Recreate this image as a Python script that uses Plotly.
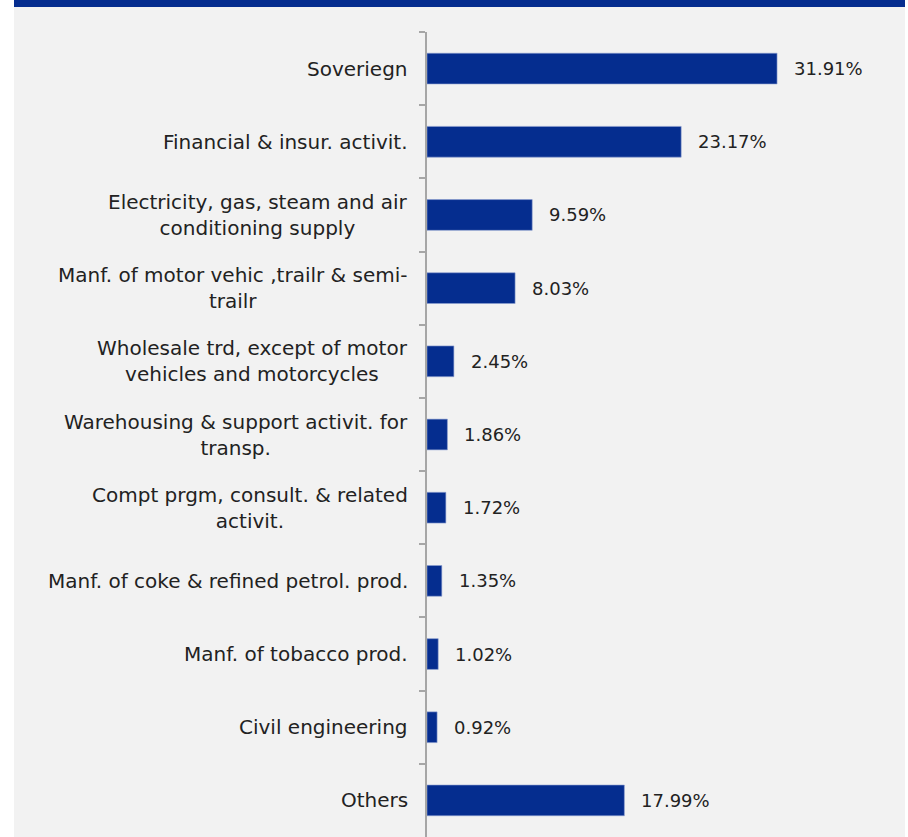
import plotly.graph_objects as go

# Sector breakdown (share of portfolio, %)
sectors = [
    "Soveriegn",
    "Financial & insur. activit.",
    "Electricity, gas, steam and air<br>conditioning supply",
    "Manf. of motor vehic ,trailr & semi-<br>trailr",
    "Wholesale trd, except of motor<br>vehicles and motorcycles",
    "Warehousing & support activit. for<br>transp.",
    "Compt prgm, consult. & related<br>activit.",
    "Manf. of coke & refined petrol. prod.",
    "Manf. of tobacco prod.",
    "Civil engineering",
    "Others",
]
shares = [31.91, 23.17, 9.59, 8.03, 2.45, 1.86, 1.72, 1.35, 1.02, 0.92, 17.99]

W, H = 908, 837
L, R, T, B = 427, 3, 32, 0
PW = W - L - R

BAR = "#052d8f"
FONT = "DejaVu Sans"
TXT = "#222222"


def px_x(px):
    return (px - L) / PW


def px_y(py):
    return 1 - (py - T) / (H - T - B)


fig = go.Figure(
    go.Bar(
        x=shares,
        y=sectors,
        orientation="h",
        marker=dict(color=BAR, line=dict(color="#8d9fd0", width=0.6)),
        width=0.42,
        hoverinfo="skip",
    )
)

annotations = []
for s, v in zip(sectors, shares):
    # value label just past the bar end
    annotations.append(dict(
        x=v, y=s, xref="x", yref="y", text=f"{v:.2f}%", showarrow=False,
        xanchor="left", xshift=15, font=dict(family=FONT, size=18, color=TXT),
    ))
    # category label, centred lines, right edge near the axis
    annotations.append(dict(
        x=0, y=s, xref="paper", yref="y", text=s, showarrow=False,
        xanchor="right", align="center", xshift=-17,
        font=dict(family=FONT, size=20, color=TXT),
    ))

shapes = [
    # grey panel
    dict(type="rect", xref="paper", yref="paper", layer="below",
         x0=px_x(14), x1=px_x(905), y0=px_y(H), y1=px_y(0),
         fillcolor="#f2f2f2", line=dict(width=0)),
    # header band
    dict(type="rect", xref="paper", yref="paper", layer="below",
         x0=px_x(14), x1=px_x(905), y0=px_y(7), y1=px_y(0),
         fillcolor="#052d8f", line=dict(width=0)),
]

fig.update_layout(
    width=W, height=H,
    margin=dict(l=L, r=R, t=T, b=B, pad=0),
    paper_bgcolor="white",
    plot_bgcolor="rgba(0,0,0,0)",
    showlegend=False,
    bargap=0.58,
    xaxis=dict(range=[0, PW / 10.97], visible=False, fixedrange=True),
    yaxis=dict(
        type="category",
        categoryorder="array", categoryarray=sectors,
        autorange="reversed",
        showticklabels=False,
        showline=True, linecolor="#a6a6a6", linewidth=1.5,
        ticks="outside", ticklen=6, tickcolor="#a6a6a6", tickwidth=1.5,
        tickson="boundaries",
        showgrid=False, zeroline=False, fixedrange=True,
    ),
    annotations=annotations,
    shapes=shapes,
)

fig.write_html("out.html", config={"displayModeBar": False})
